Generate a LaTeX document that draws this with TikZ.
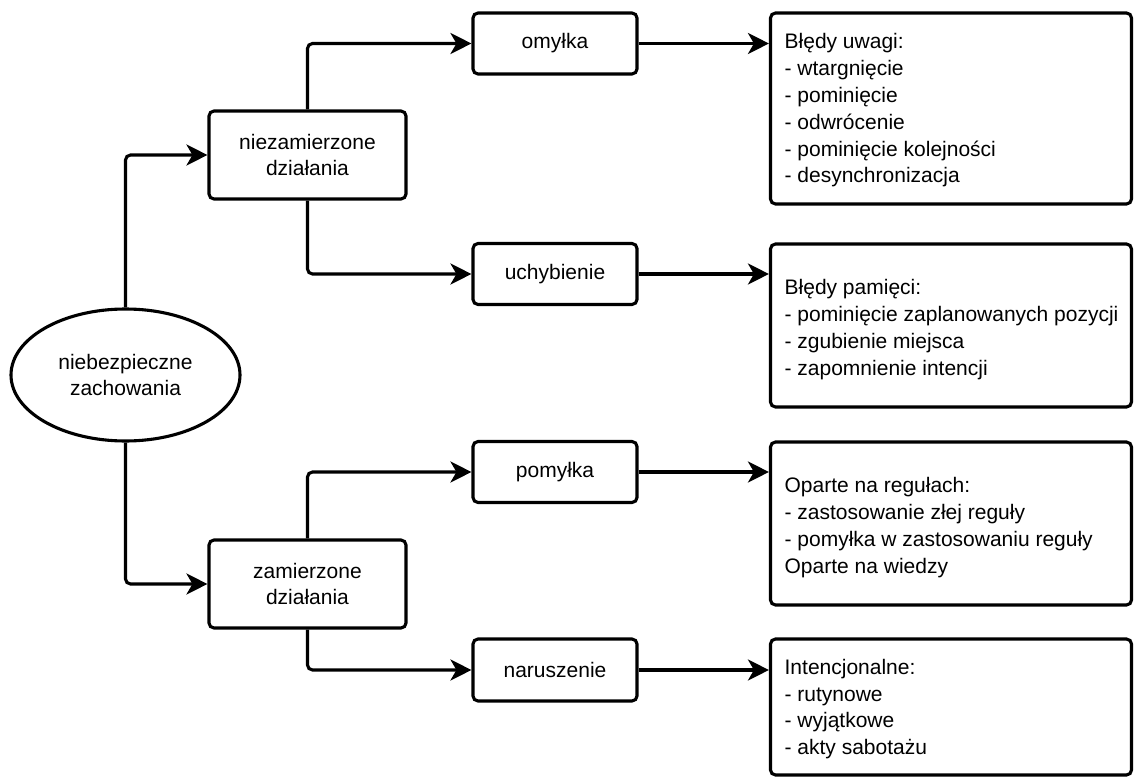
\documentclass[tikz,border=0pt]{standalone}
\usepackage{fontspec}
\setmainfont{Liberation Sans}
\usetikzlibrary{shapes.geometric,arrows.meta}
\begin{document}
\begin{tikzpicture}[x=1pt,y=-1pt,
  every node/.style={font=\fontsize{21}{26.5}\selectfont},
  lbox/.style={draw,line width=3.1pt,rounded corners=5pt,align=center,inner sep=0pt},
  rbox/.style={draw,line width=3.1pt,rounded corners=5pt,inner sep=0pt,minimum width=361pt},
  rtext/.style={align=left,inner sep=0pt,anchor=west,font=\fontsize{21}{26.8}\selectfont},
  ell/.style={draw,line width=3.1pt,ellipse,align=center,inner sep=0pt,minimum width=229pt,minimum height=132pt},
  conn/.style={line width=3.1pt,rounded corners=5pt,-{Stealth[length=21pt,width=21pt,inset=6pt]}}
]
\useasboundingbox (0,0) rectangle (1138,778);
\node[ell] (e) at (125.5,375) {niebezpieczne\\zachowania};
\node[lbox,minimum width=197pt,minimum height=88pt] (nie) at (307.5,155) {niezamierzone\\działania};
\node[lbox,minimum width=197pt,minimum height=88pt] (zam) at (307.5,584) {zamierzone\\działania};
\node[lbox,minimum width=164pt,minimum height=61pt] (omy) at (555,43.5) {omyłka};
\node[lbox,minimum width=164pt,minimum height=61pt] (uch) at (555,274) {uchybienie};
\node[lbox,minimum width=164pt,minimum height=61pt] (pom) at (555,472) {pomyłka};
\node[lbox,minimum width=164pt,minimum height=62pt] (nar) at (555,670) {naruszenie};
\node[rbox,minimum height=191pt] (r1) at (951,108.5) {};
\node[rbox,minimum height=163pt] (r2) at (951,325.5) {};
\node[rbox,minimum height=163pt] (r3) at (951,523.5) {};
\node[rbox,minimum height=136pt] (r4) at (951,707) {};
\node[rtext] (t1) at ([xshift=15.5pt,yshift=-2pt]r1.west) {Błędy uwagi:\\- wtargnięcie\\- pominięcie\\- odwrócenie\\- pominięcie kolejności\\- desynchronizacja};
\node[rtext] (t2) at ([xshift=15.5pt,yshift=-4pt]r2.west) {Błędy pamięci:\\- pominięcie zaplanowanych pozycji\\- zgubienie miejsca\\- zapomnienie intencji};
\node[rtext] (t3) at ([xshift=15.5pt,yshift=-4pt]r3.west) {Oparte na regułach:\\- zastosowanie złej reguły\\- pomyłka w zastosowaniu reguły\\Oparte na wiedzy};
\node[rtext] (t4) at ([xshift=15.5pt,yshift=-2pt]r4.west) {Intencjonalne:\\- rutynowe\\- wyjątkowe\\- akty sabotażu};
\draw[conn] (e.north) |- (nie.west);
\draw[conn] (e.south) |- (zam.west);
\draw[conn] (nie.north) |- (omy.west);
\draw[conn] (nie.south) |- (uch.west);
\draw[conn] (zam.north) |- (pom.west);
\draw[conn] (zam.south) |- (nar.west);
\draw[conn] (omy.east) -- (omy.east -| r1.west);
\draw[conn] (uch.east) -- (uch.east -| r2.west);
\draw[conn] (pom.east) -- (pom.east -| r3.west);
\draw[conn] (nar.east) -- (nar.east -| r4.west);
\end{tikzpicture}
\end{document}
